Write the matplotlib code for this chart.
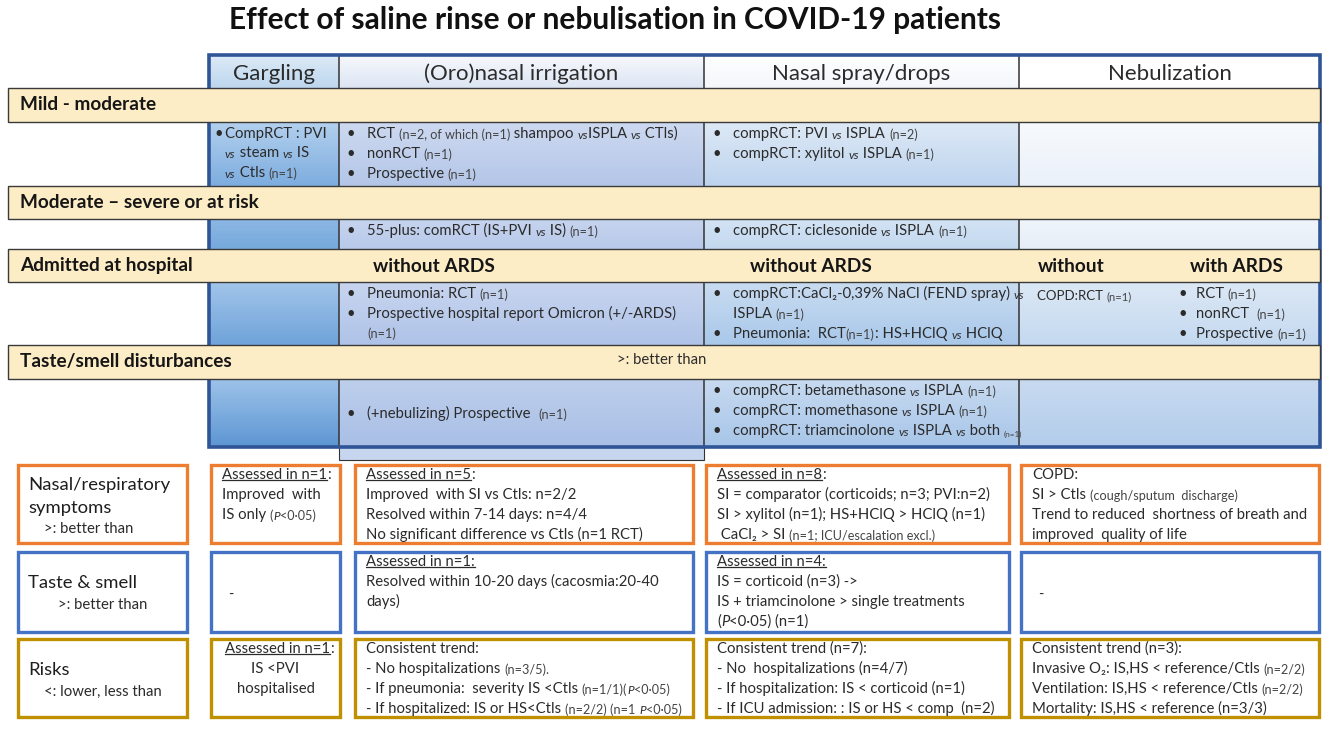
import re
import numpy as np
import matplotlib.pyplot as plt
from matplotlib.patches import Rectangle
from matplotlib.colors import to_rgb

plt.rcParams['font.family'] = ['Lato', 'DejaVu Sans']

# ---- content ----
title = "Effect of saline rinse or nebulisation in COVID-19 patients"
methods = ["Gargling", "(Oro)nasal irrigation", "Nasal spray/drops", "Nebulization"]
severity = ["Mild - moderate", "Moderate \u2013 severe or at risk",
            "Admitted at hospital", "Taste/smell disturbances"]
admitted_sub = ["without ARDS", "without ARDS", "without", "with ARDS"]
taste_note = ">: better than"

# markup: _small_  ~small italic~  *italic*  ^underlined^  `tiny`
mild = [
    ["\u2022 CompRCT : PVI", "~vs~ steam ~vs~ IS", "~vs~ Ctls _(n=1)_"],
    ["\u2022 RCT _(n=2, of which (n=1)_ shampoo ~vs~ISPLA ~vs~ CTls)",
     "\u2022 nonRCT _(n=1)_", "\u2022 Prospective _(n=1)_"],
    ["\u2022 compRCT: PVI ~vs~ ISPLA _(n=2)_", "\u2022 compRCT: xylitol ~vs~ ISPLA _(n=1)_"],
    [],
]
severe = [
    [],
    ["\u2022 55-plus: comRCT (IS+PVI ~vs~ IS) _(n=1)_"],
    ["\u2022 compRCT: ciclesonide ~vs~ ISPLA _(n=1)_"],
    [],
]
admitted = [
    [],
    ["\u2022 Pneumonia: RCT _(n=1)_", "\u2022 Prospective hospital report Omicron (+/-ARDS)", "_(n=1)_"],
    ["\u2022 compRCT:CaCl\u2082-0,39% NaCl (FEND spray) ~vs~", "ISPLA _(n=1)_",
     "\u2022 Pneumonia:  RCT_(n=1)_: HS+HClQ ~vs~ HClQ"],
    ["COPD:RCT _(n=1)_"],
]
admitted_ards = ["\u2022 RCT _(n=1)_", "\u2022 nonRCT  _(n=1)_", "\u2022 Prospective _(n=1)_"]
taste_smell = [
    [],
    ["\u2022 (+nebulizing) Prospective  _(n=1)_"],
    ["\u2022 compRCT: betamethasone ~vs~ ISPLA _(n=1)_",
     "\u2022 compRCT: momethasone ~vs~ ISPLA _(n=1)_",
     "\u2022 compRCT: triamcinolone ~vs~ ISPLA ~vs~ both `(n=1)`"],
    [],
]
study_rows = [mild, severe, admitted, taste_smell]

outcomes = [["Nasal/respiratory", "symptoms"], ["Taste & smell"], ["Risks"]]
outcome_notes = [">: better than", ">: better than", "<: lower, less than"]

resp = [
    ["^Assessed in n=1^:", "Improved  with", "IS only _(_~P~_<0\u00b705)_"],
    ["^Assessed in n=5^:", "Improved  with SI vs Ctls: n=2/2",
     "Resolved within 7-14 days: n=4/4", "No significant difference vs Ctls (n=1 RCT)"],
    ["^Assessed in n=8^:", "SI = comparator (corticoids; n=3; PVI:n=2)",
     "SI > xylitol (n=1); HS+HClQ > HClQ (n=1)", " CaCl\u2082 > SI _(n=1; ICU/escalation excl.)_"],
    ["COPD:", "SI > Ctls _(cough/sputum  discharge)_",
     "Trend to reduced  shortness of breath and", "improved  quality of life"],
]
taste = [
    ["-"],
    ["^Assessed in n=1:^", "Resolved within 10-20 days (cacosmia:20-40", "days)"],
    ["^Assessed in n=4:^", "IS = corticoid (n=3) ->",
     "IS + triamcinolone > single treatments", "(*P*<0\u00b705) (n=1)"],
    ["-"],
]
risks = [
    ["^Assessed in n=1^:", "IS <PVI", "hospitalised"],
    ["Consistent trend:", "- No hospitalizations _(n=3/5)._",
     "- If pneumonia:  severity IS <Ctls _(n=1/1)(_~P~_<0\u00b705)_",
     "- If hospitalized: IS or HS<Ctls _(n=2/2) (n=1_ ~P~_<0\u00b705)_"],
    ["Consistent trend (n=7):", "- No  hospitalizations (n=4/7)",
     "- If hospitalization: IS < corticoid (n=1)", "- If ICU admission: : IS or HS < comp  (n=2)"],
    ["Consistent trend (n=3):", "Invasive O\u2082: IS,HS < reference/Ctls _(n=2/2)_",
     "Ventilation: IS,HS < reference/Ctls _(n=2/2)_", "Mortality: IS,HS < reference (n=3/3)"],
]
summary_rows = [resp, taste, risks]

# ---- styling ----
TXT = '#2b2b2b'
BODY = 10.7
cols_x = [209, 339, 704, 1019, 1320]
hdr_y = (55, 88)
band_y = [(88, 122), (186, 219), (249, 282), (345, 379)]
row_y = [(122, 186), (219, 249), (282, 345), (379, 446)]
hdr_col = [('#DCEAF7', '#BDD7EE'), ('#F7F9FC', '#DCE5F3'), ('#FFFFFF', '#F3F6FB'), ('#FFFFFF', '#FFFFFF')]
cell_col = [
    [('#B3D0EE', '#7DADDF'), ('#CDD9F0', '#B4C6E8'), ('#DDE9F6', '#BED4EE'), ('#F7FAFD', '#EAF1F9')],
    [('#8CB7E4', '#76A9DC'), ('#C6D4EE', '#B8C9EA'), ('#D3E3F4', '#C3D8EF'), ('#F0F5FB', '#E6EEF8')],
    [('#A2C5EA', '#6FA3DA'), ('#C8D5EF', '#AFC3E8'), ('#C9DCF1', '#A9C8EA'), ('#DCE8F5', '#C4D9F0')],
    [('#9DC2E9', '#5E97D4'), ('#BECFEC', '#A9BFE6'), ('#C7DAF0', '#A8C6E9'), ('#C8DAF0', '#B3CDEB')],
]
txt_x = [(215, 225), (347, 367), (713, 733), (1037, 1037)]
box_y = [(465, 543), (552, 632), (639, 717)]
box_x = [(18, 187), (211, 340), (355, 693), (706, 1009), (1021, 1319)]
box_col = ['#ED7D31', '#4472C4', '#BF9000']

TOK = re.compile(r'(_[^_]*_|~[^~]*~|\*[^*]*\*|\^[^^]*\^|`[^`]*`)')
UL = []


def style(k, size):
    if k == 's':
        return dict(fontsize=size * 0.85, color='#444444')
    if k == 't':
        return dict(fontsize=size * 0.55, color='#444444')
    if k == 'v':
        return dict(fontsize=size * 0.8, style='italic', color=TXT)
    if k == 'i':
        return dict(fontsize=size, style='italic', color=TXT)
    return dict(fontsize=size, color=TXT)


def parse(line):
    out = []
    for p in TOK.split(line):
        if not p:
            continue
        k = {'_': 's', '~': 'v', '*': 'i', '^': 'u', '`': 't'}.get(p[0])
        if k and len(p) > 1 and p[-1] == p[0]:
            out.append((p[1:-1], k))
        else:
            out.append((p, 'n'))
    return out


def put(x, yc, line, size=BODY):
    prev = None
    for s, k in parse(line):
        kw = style(k, size)
        if prev is None:
            prev = ax.text(x, yc + size * 0.47, s, va='baseline', ha='left', zorder=6, **kw)
        else:
            prev = ax.annotate(s, xy=(1, 0), xycoords=prev, va='bottom', ha='left',
                               zorder=6, **kw)
        if k == 'u':
            UL.append(prev)


def cell_lines(xb, xt, y0, lines, size=BODY, step=20):
    for i, ln in enumerate(lines):
        y = y0 + i * step
        if ln.startswith('\u2022 '):
            ax.text(xb, y + size * 0.47, '\u2022', fontsize=size, color=TXT,
                    va='baseline', zorder=6)
            ln = ln[2:]
        put(xt, y, ln, size)


def grad(x0, x1, y0, y1, c):
    a, b = np.array(to_rgb(c[0])), np.array(to_rgb(c[1]))
    t = np.linspace(0, 1, 64)[:, None, None]
    img = a * (1 - t) + b * t
    ax.imshow(img, extent=(x0, x1, y1, y0), aspect='auto', interpolation='bicubic', zorder=1)


fig = plt.figure(figsize=(13.25, 7.31), dpi=100)
ax = fig.add_axes([0, 0, 1, 1])
ax.axis('off')

ax.text(615, 20, title, ha='center', va='center', fontsize=21.5, weight='bold', color='#111111')

# column headers
for j, m in enumerate(methods):
    grad(cols_x[j], cols_x[j + 1], hdr_y[0], hdr_y[1], hdr_col[j])
    ax.text((cols_x[j] + cols_x[j + 1]) / 2, 74, m, ha='center', va='center',
            fontsize=16, color=TXT, zorder=6)

# content cells
for i, (ya, yb) in enumerate(row_y):
    for j in range(4):
        grad(cols_x[j], cols_x[j + 1], ya, yb, cell_col[i][j])

for xv in cols_x[1:-1]:
    ax.plot([xv, xv], [hdr_y[0], row_y[-1][1]], color='#333333', lw=1.1, zorder=2)

ax.add_patch(Rectangle((339, 447), 365, 13, facecolor='#C7D6EF', edgecolor='#333333',
                       lw=0.8, zorder=2))
ax.add_patch(Rectangle((cols_x[0], hdr_y[0]), cols_x[-1] - cols_x[0], 392,
                       facecolor='none', edgecolor='#2F5597', lw=2.6, zorder=3))

# severity bands
for (ya, yb), lab in zip(band_y, severity):
    ax.add_patch(Rectangle((8, ya), cols_x[-1] - 8, yb - ya, facecolor='#FDEDC6',
                           edgecolor='#3a3a3a', lw=1.0, zorder=4))
    ax.text(20, (ya + yb) / 2, lab, va='center', fontsize=13.7, weight='bold',
            color='#161616', zorder=6)
for x, s in zip([373, 750, 1038, 1190], admitted_sub):
    ax.text(x, 266, s, va='center', fontsize=13.7, weight='bold', color='#161616', zorder=6)
ax.text(617, 360, taste_note, va='center', fontsize=BODY, color=TXT, zorder=6)

# study texts
for i, row in enumerate(study_rows):
    ya, yb = row_y[i]
    for j, lines in enumerate(row):
        if not lines:
            continue
        if i == 3 and len(lines) == 1:
            y0 = (ya + yb) / 2
        else:
            y0 = ya + 11
        size = 9.5 if (i == 2 and j == 3) else BODY
        if i == 2 and j == 3:
            y0 += 3
        cell_lines(txt_x[j][0], txt_x[j][1], y0, lines, size)
cell_lines(1179, 1196, row_y[2][0] + 11, admitted_ards)

# summary boxes
for r, (ya, yb) in enumerate(box_y):
    for (xa, xb) in box_x:
        ax.add_patch(Rectangle((xa, ya), xb - xa, yb - ya, facecolor='white',
                               edgecolor=box_col[r], lw=2.4, zorder=5))

label_y = [[485, 508], [583], [670]]
note_pos = [(44, 529), (58, 605), (44, 692)]
for r in range(3):
    for s, y in zip(outcomes[r], label_y[r]):
        ax.text(28, y, s, va='center', fontsize=13.3, color='#1e1e1e', zorder=6)
    ax.text(note_pos[r][0], note_pos[r][1], outcome_notes[r], va='center',
            fontsize=BODY, color=TXT, zorder=6)

for r, row in enumerate(summary_rows):
    ya, yb = box_y[r]
    for c, lines in enumerate(row):
        xa, xb = box_x[c + 1]
        if lines == ["-"]:
            put(xa + 17, (ya + yb) / 2 + 2, "-")
            continue
        if r == 2 and c == 0:
            put(xa + 14, ya + 9, lines[0])
            for k, s in enumerate(lines[1:]):
                ax.text((xa + xb) / 2, ya + 29 + 20 * k + BODY * 0.47, s, ha='center',
                        va='baseline', fontsize=BODY, color=TXT, zorder=6)
            continue
        for k, s in enumerate(lines):
            put(xa + 11, ya + 9 + 20 * k, s)

ax.set_xlim(0, 1325)
ax.set_ylim(731, 0)

fig.canvas.draw()
inv = ax.transData.inverted()
for t in UL:
    bb = t.get_window_extent()
    (x0, y0), (x1, _) = inv.transform([(bb.x0, bb.y0 + 2), (bb.x1, bb.y0 + 2)])
    ax.plot([x0, x1], [y0, y0], color=TXT, lw=0.9, zorder=6)
ax.set_xlim(0, 1325)
ax.set_ylim(731, 0)

fig.savefig('out.png', dpi=100)
